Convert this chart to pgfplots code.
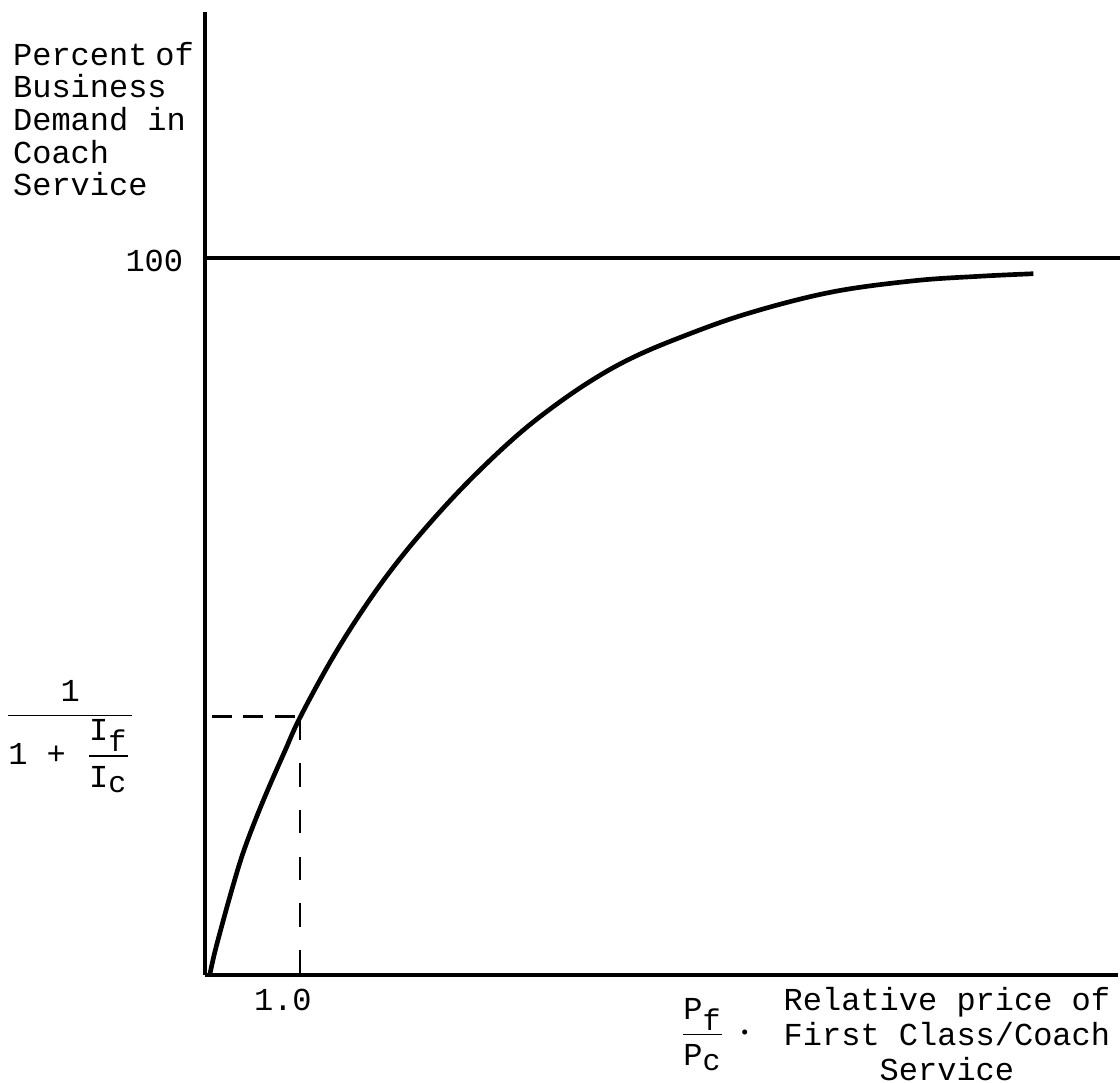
\documentclass[border=0pt]{standalone}
\usepackage{pgfplots}
\pgfplotsset{compat=1.18}
\usepackage{fontspec}
\setmainfont{Liberation Mono}
\begin{document}
\begin{tikzpicture}[every node/.style={inner sep=0pt, outer sep=0pt, font=\fontsize{9.6}{10.4}\selectfont}]
\begin{axis}[
  x=28.5pt, y=2.151pt, scale only axis,
  xmin=0, xmax=9.61, ymin=0, ymax=134.3,
  axis x line=bottom, axis y line=left,
  axis line style={-, line width=1.2pt, black},
  xtick=\empty, ytick=\empty,
  clip=false,
]
% demand curve
\addplot[black, line width=1.4pt, smooth, tension=0.6] coordinates {
(0.05,0) (0.10,3.0) (0.18,7.0) (0.27,11.3) (0.39,16.6) (0.53,21.6)
(0.68,26.4) (0.84,31.2) (1.00,35.9) (1.32,43.7) (1.63,50.3)
(1.95,56.3) (2.30,62.0) (2.72,68.1) (3.18,74.0) (3.56,78.2)
(4.02,82.5) (4.47,85.9) (5.00,88.9) (5.70,92.2) (6.58,95.2)
(7.45,96.8) (8.16,97.45) (8.72,97.8)
};
% 100 percent line
\addplot[black, line width=1.2pt] coordinates {(0,100) (9.63,100)};
% dashed guides
\addplot[black, line width=0.8pt, dash pattern=on 6pt off 3.5pt] coordinates {(0.07,36) (1.0,36)};
\addplot[black, line width=0.8pt, dash pattern=on 7pt off 7pt] coordinates {(1.0,36) (1.0,0)};
% labels
\node[anchor=north west, align=left, font=\fontsize{9.6}{9.8}\selectfont] at (axis cs:-2.02,130.1)
  {Percent\hspace{0.25em}of\\Business\\Demand in\\Coach\\Service};
\node[anchor=east] at (axis cs:-0.23,99.6) {100};
\node[anchor=center] at (axis cs:0.82,-3.5) {1.0};
\node[anchor=center] at (axis cs:-1.42,33.3)
  {$\displaystyle\frac{\mbox{1}}{\mbox{1 + }\displaystyle\frac{\mbox{I}_{\mbox{\small f}}}{\mbox{I}_{\mbox{\small c}}}}$};
\node[anchor=center] at (axis cs:5.24,-8.37)
  {$\displaystyle\frac{\mbox{P}_{\mbox{\small f}}}{\mbox{P}_{\mbox{\small c}}}$};
\node[anchor=center] at (axis cs:5.69,-8.2) {\Large$\cdot$};
\node[anchor=center, align=center, font=\fontsize{9.6}{10.6}\selectfont] at (axis cs:7.81,-8.23)
  {Relative price of\\First Class/Coach\\Service};
\coordinate (bl) at (axis cs:-2.158,-15.06);
\coordinate (tr) at (axis cs:9.632,135.98);
\end{axis}
\pgfresetboundingbox
\path[use as bounding box] (bl) rectangle (tr);
\end{tikzpicture}
\end{document}
